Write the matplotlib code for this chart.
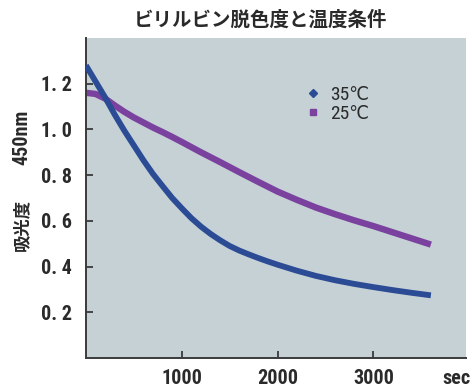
import matplotlib
matplotlib.use("Agg")
import matplotlib.pyplot as plt
from matplotlib.lines import Line2D
from matplotlib import font_manager
from matplotlib.font_manager import FontProperties

# ---- data ----
time_35 = [0, 100, 200, 300, 400, 500, 600, 700, 800, 900, 1000, 1100, 1200,
           1300, 1400, 1500, 1600, 1700, 1800, 1900, 2000, 2200, 2400, 2600,
           2800, 3000, 3200, 3400, 3600]
abs_35 = [1.28, 1.21, 1.14, 1.065, 0.995, 0.93, 0.865, 0.805, 0.752, 0.70,
          0.655, 0.612, 0.575, 0.543, 0.515, 0.49, 0.47, 0.453, 0.437, 0.422,
          0.408, 0.382, 0.359, 0.340, 0.324, 0.310, 0.297, 0.285, 0.274]

time_25 = [0, 100, 200, 300, 400, 500, 600, 700, 800, 900, 1000, 1200, 1400,
           1600, 1800, 2000, 2200, 2400, 2600, 2800, 3000, 3200, 3400, 3600]
abs_25 = [1.16, 1.155, 1.135, 1.105, 1.077, 1.052, 1.03, 1.008, 0.988, 0.967,
          0.945, 0.90, 0.857, 0.813, 0.77, 0.728, 0.692, 0.658, 0.629, 0.602,
          0.577, 0.55, 0.523, 0.496]

x_ticks = [1000, 2000, 3000]
y_ticks = [0.2, 0.4, 0.6, 0.8, 1.0, 1.2]
y_ticklabels = ["0. 2", "0. 4", "0. 6", "0. 8", "1. 0", "1. 2"]
series_labels = ["35℃", "25℃"]
title = "ビリルビン脱色度と温度条件"
ylabel_jp = "吸光度"
ylabel_nm = "450nm"
xunit = "sec"

# ---- fonts: look for a condensed face ----
fl = font_manager.fontManager.ttflist
def find_condensed(bold):
    prefs = ["Roboto", "Liberation", "DejaVu", "Open", "Noto"]
    def is_bold(f):
        w = f.weight if isinstance(f.weight, int) else (700 if "bold" in str(f.weight) else 400)
        return w >= 600
    cands = [f for f in fl if ("condensed" in str(f.stretch) or "Condensed" in f.name
             or "Narrow" in f.name or "Condensed" in f.fname or "Narrow" in f.fname)
             and f.style == "normal"]
    cands.sort(key=lambda f: (0 if is_bold(f) == bold else 1,
                              next((i for i, p in enumerate(prefs) if p in f.name), 99)))
    return cands[0] if cands else None

eb = find_condensed(True)
er = find_condensed(False)
fallbacks = ["DejaVu Sans", "Noto Sans CJK JP"]
if eb:
    tick_fp = FontProperties(fname=eb.fname, size=14.5)
    er = er or eb
    leg_fp = FontProperties(family=[er.name] + fallbacks, weight=er.weight,
                            stretch=er.stretch, size=14)
else:
    tick_fp = FontProperties(family="DejaVu Sans", weight="bold", size=11.5)
    leg_fp = FontProperties(family=fallbacks, size=11.5)

cjk = "Noto Sans CJK JP"
txt_col = "#2a2a2a"

fig = plt.figure(figsize=(4.72, 3.87), dpi=100)
ax = fig.add_axes([0.182, 0.075, 0.805, 0.827])
ax.set_facecolor("#c6d1d5")

c35 = "#2b4b95"
c25 = "#7a429e"
ax.plot(time_35, abs_35, color=c35, lw=4.2, solid_capstyle="butt",
        solid_joinstyle="round", zorder=3)
ax.plot(time_25, abs_25, color=c25, lw=4.6, solid_capstyle="butt",
        solid_joinstyle="round", zorder=2)

ax.set_xlim(0, 3965)
ax.set_ylim(0, 1.40)

for s in ["top", "right"]:
    ax.spines[s].set_visible(False)
for s in ["left", "bottom"]:
    ax.spines[s].set_color("#3a3a3a")
    ax.spines[s].set_linewidth(1.4)

ax.set_xticks(x_ticks)
ax.set_xticklabels([str(v) for v in x_ticks])
ax.set_yticks(y_ticks)
ax.set_yticklabels(y_ticklabels)
ax.tick_params(direction="in", length=5, width=1.3, color="#3a3a3a")
ax.tick_params(axis="y", pad=10)
ax.tick_params(axis="x", pad=8)
for lab in ax.get_xticklabels() + ax.get_yticklabels():
    lab.set_fontproperties(tick_fp)
    lab.set_color(txt_col)

fig.text(0.997, 0.023, xunit, ha="right", va="center",
         fontproperties=tick_fp, color=txt_col)

fig.text(0.553, 0.948, title, ha="center", va="center",
         fontfamily=[cjk, "DejaVu Sans"], fontweight="bold", fontsize=14,
         color=txt_col)

fig.text(0.047, 1 - 225 / 387, ylabel_jp, ha="center", va="center", rotation=90,
         fontfamily=[cjk, "DejaVu Sans"], fontweight="bold", fontsize=12.5,
         color=txt_col)
fig.text(0.047, 1 - 137 / 387, ylabel_nm, ha="center", va="center", rotation=90,
         fontproperties=tick_fp, color=txt_col)

handles = [Line2D([], [], ls="none", marker="D", ms=4, color=c35),
           Line2D([], [], ls="none", marker="s", ms=4, color=c25)]
leg = ax.legend(handles, series_labels, loc="upper left",
                bbox_to_anchor=(0.53, 0.905), frameon=False,
                handlelength=0.8, handletextpad=0.5, labelspacing=0.05,
                prop=leg_fp)
for t in leg.get_texts():
    t.set_color(txt_col)

fig.savefig("out.png", dpi=100, facecolor="white")
